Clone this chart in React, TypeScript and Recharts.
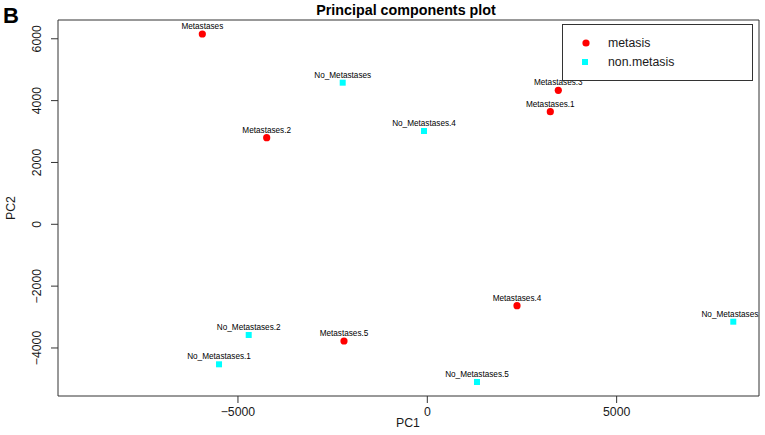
import { ScatterChart, Scatter, XAxis, YAxis, ReferenceArea, Legend } from 'recharts';

// sample names and PC scores
const metNames = ['Metastases', 'Metastases.1', 'Metastases.2', 'Metastases.3', 'Metastases.4', 'Metastases.5'];
const metPC1 = [-5941, 3248, -4241, 3459, 2369, -2200];
const metPC2 = [6155, 3642, 2801, 4334, -2632, -3774];

const nonNames = ['No_Metastases', 'No_Metastases.1', 'No_Metastases.2', 'No_Metastases.3', 'No_Metastases.4', 'No_Metastases.5'];
const nonPC1 = [-2234, -5500, -4716, 8080, -87, 1312];
const nonPC2 = [4580, -4528, -3580, -3150, 3017, -5100];

const xTicks = [-5000, 0, 5000];
const yTicks = [-4000, -2000, 0, 2000, 4000, 6000];
const xDomain = [-9752, 8759];
const yDomain = [-5553, 6607];

const legendItems = ['metasis', 'non.metasis'];

const metData = metNames.map((name, i) => ({ name, pc1: metPC1[i], pc2: metPC2[i] }));
const nonData = nonNames.map((name, i) => ({ name, pc1: nonPC1[i], pc2: nonPC2[i] }));

const FONT = '"Liberation Sans", Arial, sans-serif';
const RED = '#ff0000';
const CYAN = '#00ffff';
const INK = '#1a1a1a';

const fmt = (v: number) => (v < 0 ? '\u2212' + Math.abs(v) : String(v));

function MetShape(props: any) {
  const { cx, cy, payload } = props;
  return (
    <g>
      <circle cx={cx} cy={cy} r={3.6} fill={RED} />
      <text x={cx} y={cy - 5} textAnchor="middle" fontSize={8.2} fontFamily={FONT} fill="#000">
        {payload.name}
      </text>
    </g>
  );
}

function NonShape(props: any) {
  const { cx, cy, payload } = props;
  return (
    <g>
      <rect x={cx - 3} y={cy - 3} width={6} height={6} fill={CYAN} />
      <text x={cx} y={cy - 5} textAnchor="middle" fontSize={8.2} fontFamily={FONT} fill="#000">
        {payload.name}
      </text>
    </g>
  );
}

function XTick(props: any) {
  const { x, payload } = props;
  return (
    <text x={x} y={416} textAnchor="middle" fontSize={12.3} fontFamily={FONT} fill={INK}>
      {fmt(payload.value)}
    </text>
  );
}

function YTick(props: any) {
  const { y, payload } = props;
  return (
    <text
      x={41.5}
      y={y}
      transform={`rotate(-90 41.5 ${y})`}
      textAnchor="middle"
      fontSize={12.3}
      fontFamily={FONT}
      fill={INK}
    >
      {fmt(payload.value)}
    </text>
  );
}

function LegendBox() {
  return (
    <svg width={192} height={58} style={{ display: 'block' }}>
      <rect x={0.5} y={0.5} width={190} height={56} fill="#fff" stroke="#333" />
      <circle cx={24} cy={19} r={3.6} fill={RED} />
      <text x={46} y={23.3} fontSize={12.3} fontFamily={FONT} fill={INK}>{legendItems[0]}</text>
      <rect x={20} y={35} width={6} height={6} fill={CYAN} />
      <text x={46} y={42.3} fontSize={12.3} fontFamily={FONT} fill={INK}>{legendItems[1]}</text>
    </svg>
  );
}

export default function App() {
  return (
    <div style={{ position: 'absolute', left: 0, top: 0, width: 765, height: 435, background: '#fff' }}>
      <ScatterChart width={765} height={435} margin={{ top: 20, right: 6, bottom: 0, left: 0 }}>
        <XAxis
          type="number"
          dataKey="pc1"
          domain={xDomain}
          ticks={xTicks}
          allowDataOverflow
          height={39}
          axisLine={false}
          tickSize={7}
          tickLine={{ stroke: '#333' }}
          tick={<XTick />}
        />
        <YAxis
          type="number"
          dataKey="pc2"
          domain={yDomain}
          ticks={yTicks}
          allowDataOverflow
          width={58}
          axisLine={false}
          tickSize={7}
          tickLine={{ stroke: '#333' }}
          tick={<YTick />}
        />
        <ReferenceArea
          x1={xDomain[0]}
          x2={xDomain[1]}
          y1={yDomain[0]}
          y2={yDomain[1]}
          fill="none"
          fillOpacity={0}
          stroke="#333"
          strokeWidth={1}
          ifOverflow="visible"
        />
        <Scatter name="metasis" data={metData} shape={<MetShape />} isAnimationActive={false} />
        <Scatter name="non.metasis" data={nonData} shape={<NonShape />} isAnimationActive={false} />
        <Legend
          layout="vertical"
          align="center"
          verticalAlign="middle"
          wrapperStyle={{ position: 'absolute', left: 562, top: 24, width: 192, height: 58 }}
          content={() => <LegendBox />}
        />
      </ScatterChart>
      <svg
        width={765}
        height={435}
        style={{ position: 'absolute', left: 0, top: 0, pointerEvents: 'none' }}
      >
        <text x={3} y={22.7} fontSize={22} fontWeight="bold" fontFamily={FONT} fill="#000">B</text>
        <text x={406} y={14.5} textAnchor="middle" fontSize={14.3} fontWeight="bold" fontFamily={FONT} fill="#000">
          Principal components plot
        </text>
        <text x={408} y={427} textAnchor="middle" fontSize={12.3} fontFamily={FONT} fill={INK}>PC1</text>
        <text x={14.5} y={208} transform="rotate(-90 14.5 208)" textAnchor="middle" fontSize={12.3} fontFamily={FONT} fill={INK}>
          PC2
        </text>
      </svg>
    </div>
  );
}
